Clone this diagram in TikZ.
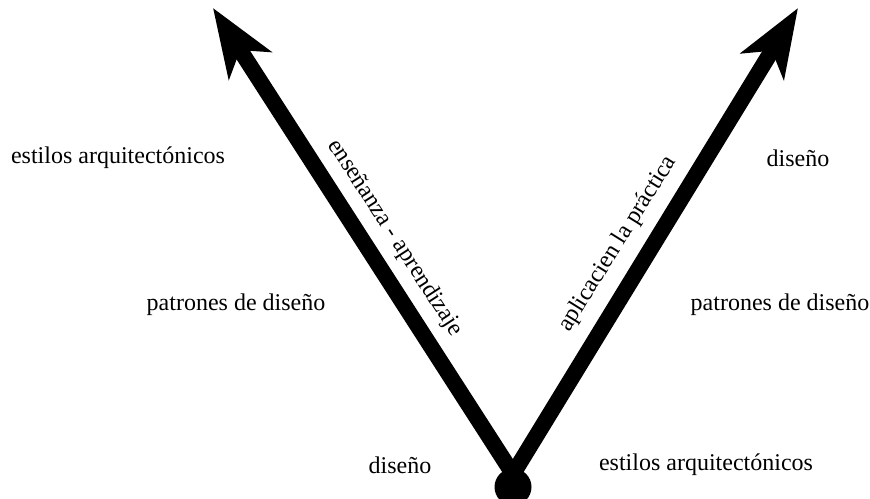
\documentclass[tikz,border=0pt]{standalone}
\usepackage{fontspec}
\setmainfont{Liberation Serif}
\usetikzlibrary{arrows.meta}
\begin{document}
\begin{tikzpicture}[x=1pt,y=-1pt,
  lbl/.style={font=\fontsize{24}{28}\selectfont, inner sep=0pt},
  bigarrow/.style={line width=16pt, -{Stealth[length=68pt,width=50pt,inset=18pt]}}]
\useasboundingbox (0,0) rectangle (870,498);
\coordinate (v) at (513,474);
\coordinate (tipL) at (213,8);
\coordinate (tipR) at (798,8);
\node[circle, fill=black, minimum size=37pt, inner sep=0pt] (dot) at (513,487) {};
\draw[bigarrow] (v) -- (tipL);
\draw[bigarrow] (v) -- (tipR);
\node[lbl] (la) at (118,158) {estilos arquitectónicos};
\node[lbl] (lb) at (236,305) {patrones de diseño};
\node[lbl] (lc) at (400,465) {diseño};
\node[lbl] (ra) at (798,158) {diseño};
\node[lbl] (rb) at (780,305) {patrones de diseño};
\node[lbl] (rc) at (706,465) {estilos arquitectónicos};
\node[lbl, rotate=-57] (ea) at (395,238) {enseñanza - aprendizaje};
\node[lbl, rotate=58] (ap) at (618,244) {aplicacien la práctica};
\end{tikzpicture}
\end{document}
